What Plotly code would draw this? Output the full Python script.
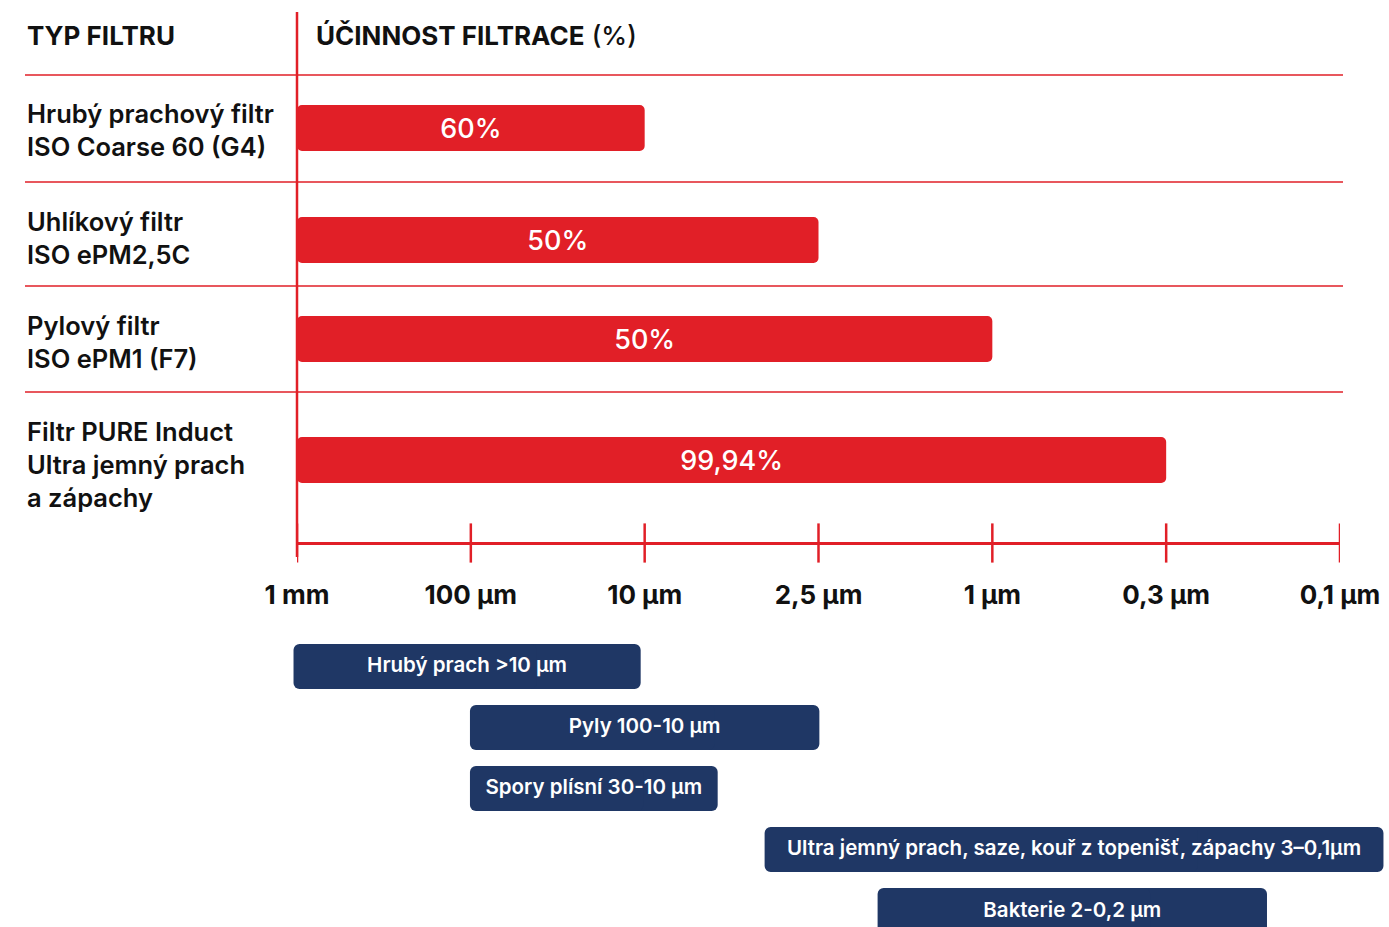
import plotly.graph_objects as go

# ---------------- data ----------------
SIZE_TICKS = ["1 mm", "100 µm", "10 µm", "2,5 µm", "1 µm", "0,3 µm", "0,1 µm"]

FILTER_NAMES = [
    "Hrubý prachový filtr<br>ISO Coarse 60 (G4)",
    "Uhlíkový filtr<br>ISO ePM2,5C",
    "Pylový filtr<br>ISO ePM1 (F7)",
    "Filtr PURE Induct<br>Ultra jemný prach<br>a zápachy",
]
# smallest particle size each filter reaches on the size scale
FILTER_REACH = ["10 µm", "2,5 µm", "1 µm", "0,3 µm"]
FILTER_EFFICIENCY = ["60%", "50%", "50%", "99,94%"]

PARTICLE_NAMES = [
    "Hrubý prach >10 µm",
    "Pyly 100-10 µm",
    "Spory plísní 30-10 µm",
    "Ultra jemný prach, saze, kouř z topenišť, zápachy 3–0,1µm",
    "Bakterie 2-0,2 µm",
]
# particle ranges in size-scale units (0 = 1 mm ... 6 = 0,1 µm)
PARTICLE_FROM = [-0.02, 0.995, 0.995, 2.69, 3.34]
PARTICLE_TO = [1.977, 3.005, 2.42, 6.25, 5.58]

# ---------------- layout constants ----------------
W, H = 1389, 927
RED = "#E11F27"
NAVY = "#1F3765"
INK = "#111111"
FONT = "Inter"

AXIS_LEFT_PX, AXIS_RIGHT_PX = 297, 1340
UNIT = (AXIS_RIGHT_PX - AXIS_LEFT_PX) / (len(SIZE_TICKS) - 1)
X_RANGE = [-AXIS_LEFT_PX / UNIT, (W - AXIS_LEFT_PX) / UNIT]

ROW_BAR_Y = [128, 240, 339, 460]
ROW_LABEL_Y = [130, 238, 342, 464]
ROW_SEP_Y = [75, 182, 286, 392]
PARTICLE_Y = [666.5, 727.5, 788.5, 849.5, 910.5]
PARTICLE_TEXT_Y = [666.5, 727.5, 788.5, 849.5, 911.5]
AXIS_Y = 543


def px_x(p):
    return p / W


def scale_pos(label):
    return SIZE_TICKS.index(label)


fig = go.Figure()

# filter reach bars
fig.add_trace(go.Bar(
    x=[scale_pos(r) for r in FILTER_REACH],
    y=ROW_BAR_Y,
    base=0,
    orientation="h",
    width=46,
    marker=dict(color=RED, cornerradius=5, line_width=0),
    text=FILTER_EFFICIENCY,
    textposition="inside",
    insidetextanchor="middle",
    textangle=0,
    constraintext="none",
    insidetextfont=dict(family=FONT, size=27, color="white", weight=500),
    hoverinfo="skip",
    showlegend=False,
))

# particle range bars: two overlapping halves so both ends get rounded
span = [e - s for s, e in zip(PARTICLE_FROM, PARTICLE_TO)]
fig.add_trace(go.Bar(
    x=[0.7 * d for d in span],
    y=PARTICLE_Y,
    base=[s + 0.3 * d for s, d in zip(PARTICLE_FROM, span)],
    orientation="h",
    width=45,
    marker=dict(color=NAVY, cornerradius=6, line_width=0),
    cliponaxis=False,
    hoverinfo="skip",
    showlegend=False,
))
fig.add_trace(go.Bar(
    x=[-0.7 * d for d in span],
    y=PARTICLE_Y,
    base=[s + 0.7 * d for s, d in zip(PARTICLE_FROM, span)],
    orientation="h",
    width=45,
    marker=dict(color=NAVY, cornerradius=6, line_width=0),
    cliponaxis=False,
    hoverinfo="skip",
    showlegend=False,
))
fig.add_trace(go.Scatter(
    x=[(s + e) / 2 for s, e in zip(PARTICLE_FROM, PARTICLE_TO)],
    y=PARTICLE_TEXT_Y,
    mode="text",
    text=PARTICLE_NAMES,
    textposition="middle center",
    textfont=dict(family=FONT, size=20.5, color="white", weight=600),
    hoverinfo="skip",
    showlegend=False,
))

# tick marks crossing the size axis
fig.add_trace(go.Scatter(
    x=list(range(len(SIZE_TICKS))),
    y=[AXIS_Y] * len(SIZE_TICKS),
    xaxis="x2",
    yaxis="y",
    mode="markers",
    marker=dict(symbol="line-ns", size=28, line=dict(color=RED, width=2.5)),
    hoverinfo="skip",
    showlegend=False,
))

shapes = [
    dict(type="line", xref="paper", yref="y", x0=px_x(25), x1=px_x(1343),
         y0=y, y1=y, line=dict(color=RED, width=1.4))
    for y in ROW_SEP_Y
]
shapes.append(dict(type="line", xref="x", yref="y", x0=0, x1=0, y0=12, y1=557,
                   line=dict(color=RED, width=2.5)))

annotations = [
    dict(text="<b>TYP FILTRU</b>", xref="paper", yref="y", x=px_x(25), y=35,
         xanchor="left", yanchor="middle", showarrow=False,
         font=dict(family=FONT, size=26, color=INK)),
    dict(text="<b>ÚČINNOST FILTRACE</b> <span style='font-weight:500'>(%)</span>",
         xref="paper", yref="y", x=px_x(314), y=35,
         xanchor="left", yanchor="middle", showarrow=False,
         font=dict(family=FONT, size=26, color=INK)),
]
for name, y in zip(FILTER_NAMES, ROW_LABEL_Y):
    annotations.append(dict(
        text=name, xref="paper", yref="y", x=px_x(25), y=y,
        xanchor="left", yanchor="middle", align="left", showarrow=False,
        font=dict(family=FONT, size=25.5, color=INK, weight=600),
    ))

fig.update_layout(
    width=W, height=H,
    margin=dict(l=0, r=0, t=0, b=0),
    paper_bgcolor="white", plot_bgcolor="rgba(0,0,0,0)",
    barmode="overlay",
    showlegend=False,
    xaxis=dict(range=X_RANGE, visible=False, fixedrange=True, automargin=False),
    xaxis2=dict(
        domain=[px_x(AXIS_LEFT_PX), px_x(AXIS_RIGHT_PX)],
        range=[0, len(SIZE_TICKS) - 1],
        anchor="free", position=1 - AXIS_Y / H, side="bottom",
        showline=True, linecolor=RED, linewidth=2.5,
        showgrid=False, zeroline=False, ticks="",
        tickvals=list(range(len(SIZE_TICKS))), ticktext=SIZE_TICKS,
        tickfont=dict(family=FONT, size=26, color=INK, weight=700),
        ticklabelstandoff=28, fixedrange=True, automargin=False,
    ),
    yaxis=dict(range=[H, 0], visible=False, fixedrange=True, automargin=False),
    shapes=shapes,
    annotations=annotations,
)

fig.write_html("out.html")
